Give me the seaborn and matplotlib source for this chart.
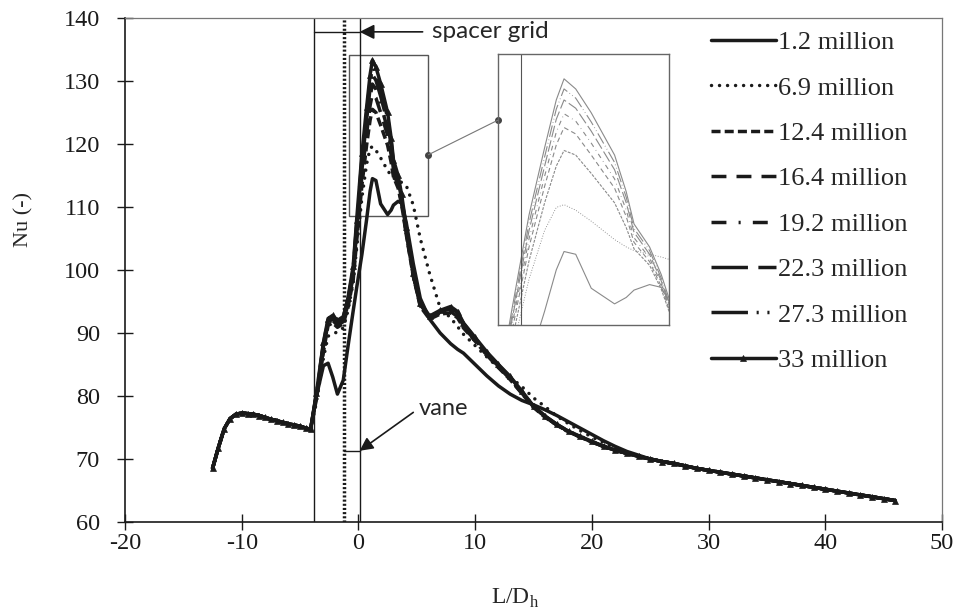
import matplotlib
matplotlib.use('Agg')
import matplotlib.pyplot as plt
import seaborn as sns
import pandas as pd
from matplotlib.patches import Rectangle, ConnectionPatch

# L/Dh positions (shared by all meshes)
x_inlet = [-12.5, -12, -11.5, -11, -10.5, -10, -9.5, -9, -8.5, -8, -7.5, -7, -6.5, -6, -5.5, -5, -4.5, -4.1]
x_mid = [-3.6, -3.0, -2.6, -2.2, -1.8, -1.3, -0.9, -0.45, -0.15, 0.3, 0.7, 1.0, 1.2,
         1.5, 1.9, 2.5, 2.8, 3.0, 3.4, 3.7, 4.1, 4.7, 5.3, 6.1, 7.0, 7.9, 8.5, 9.0,
         10, 11, 12, 13, 14, 15, 16, 17, 18, 19, 20, 21, 22, 23, 24]
x_far = [25, 26, 27, 28, 29, 30, 31, 32, 33, 34, 35, 36, 37, 38, 39, 40, 41, 42, 43, 44, 45, 46]

# Nu upstream of the grid and far downstream (all meshes agree here)
nu_inlet = [68.5, 71.8, 74.8, 76.4, 77.1, 77.3, 77.2, 77.1, 76.9, 76.6, 76.3, 76.1, 75.8, 75.6,
            75.4, 75.2, 74.9, 74.7]
nu_far = [70.0, 69.6, 69.3, 68.9, 68.5, 68.2, 67.9, 67.6, 67.3, 67.0, 66.7, 66.4,
          66.1, 65.8, 65.5, 65.2, 64.9, 64.6, 64.3, 64.0, 63.7, 63.4]

# Nu around the spacer grid, per mesh
nu_1_2 = [80.0, 84.8, 85.2, 83.0, 80.3, 82.5, 87.8, 93.5, 97.2, 102.5, 108.0, 112.5, 114.5,
          114.2, 110.5, 108.8, 109.5, 110.3, 110.9, 110.6, 107.5, 101.0, 95.5, 92.2, 90.0, 88.3, 87.4, 86.8,
          85.0, 83.2, 81.6, 80.3, 79.3, 78.6, 77.8, 76.9, 75.9, 74.9, 73.9, 72.9, 72.0, 71.2, 70.6]
nu_6_9 = [79.0, 86.0, 89.5, 89.8, 90.2, 90.8, 93.5, 98.0, 103.5, 111.5, 116.8, 119.3, 119.6,
          119.0, 117.8, 115.8, 115.0, 114.6, 114.2, 113.9, 113.4, 110.3, 105.0, 99.4, 94.0, 92.4, 91.0, 89.8,
          88.0, 86.2, 84.5, 83.0, 81.5, 79.7, 78.3, 76.8, 75.6, 74.5, 73.5, 72.6, 71.8, 71.1, 70.5]
nu_12_4 = [79.5, 87.0, 91.2, 91.6, 90.9, 91.5, 94.0, 98.4, 104.6, 113.5, 119.8, 123.8, 125.5,
           125.0, 123.0, 119.8, 117.1, 114.8, 113.0, 110.4, 105.6, 99.0, 94.2, 92.2, 93.0, 93.2, 92.4, 90.8,
           88.7, 86.5, 84.5, 82.6, 80.4, 78.2, 76.6, 75.4, 74.3, 73.5, 72.7, 72.0, 71.4, 70.9, 70.4]
nu_16_4 = [79.8, 87.5, 91.6, 92.0, 91.2, 91.8, 94.5, 99.0, 105.6, 115.0, 121.6, 126.1, 128.0,
           127.3, 125.0, 121.4, 118.3, 115.5, 113.4, 110.7, 105.8, 99.1, 94.3, 92.3, 93.2, 93.4, 92.6, 91.0,
           88.8, 86.6, 84.6, 82.7, 80.5, 78.3, 76.7, 75.4, 74.3, 73.5, 72.7, 72.0, 71.4, 70.9, 70.4]
nu_19_2 = [80.0, 87.8, 91.8, 92.2, 91.4, 92.0, 94.7, 99.4, 106.2, 115.9, 122.7, 127.5, 129.5,
           128.7, 126.3, 122.4, 119.0, 116.0, 113.8, 111.0, 106.0, 99.2, 94.4, 92.4, 93.3, 93.6, 92.8, 91.2,
           88.9, 86.7, 84.7, 82.8, 80.5, 78.3, 76.7, 75.4, 74.3, 73.5, 72.7, 72.0, 71.4, 70.9, 70.4]
nu_22_3 = [80.2, 88.0, 92.0, 92.4, 91.6, 92.2, 95.0, 99.8, 106.8, 116.8, 123.8, 128.9, 131.0,
           130.1, 127.6, 123.4, 119.8, 116.6, 114.2, 111.3, 106.2, 99.3, 94.5, 92.5, 93.4, 93.8, 93.0, 91.3,
           89.0, 86.8, 84.8, 82.9, 80.6, 78.3, 76.7, 75.4, 74.4, 73.5, 72.7, 72.0, 71.4, 70.9, 70.4]
nu_27_3 = [80.3, 88.3, 92.2, 92.6, 91.8, 92.4, 95.2, 100.2, 107.3, 117.6, 124.8, 130.0, 132.2,
           131.2, 128.6, 124.2, 120.4, 117.0, 114.6, 111.6, 106.4, 99.4, 94.6, 92.6, 93.5, 94.0, 93.2, 91.5,
           89.2, 86.9, 84.9, 83.0, 80.7, 78.4, 76.8, 75.5, 74.4, 73.6, 72.8, 72.0, 71.4, 70.9, 70.4]
nu_33 = [80.5, 88.5, 92.3, 92.8, 92.0, 92.6, 95.5, 100.6, 108.0, 118.5, 125.8, 131.0, 133.3,
         132.2, 129.6, 125.0, 121.0, 117.5, 115.0, 112.0, 106.8, 99.6, 94.8, 92.7, 93.6, 94.2, 93.4, 91.6,
         89.3, 87.0, 85.0, 83.1, 80.8, 78.4, 76.8, 75.5, 74.4, 73.6, 72.8, 72.0, 71.4, 70.9, 70.4]

labels = ['1.2 million', '6.9 million', '12.4 million', '16.4 million',
          '19.2 million', '22.3 million', '27.3 million', '33 million']
mids = [nu_1_2, nu_6_9, nu_12_4, nu_16_4, nu_19_2, nu_22_3, nu_27_3, nu_33]

x_all = x_inlet + x_mid + x_far
rows = []
for lab, mid in zip(labels, mids):
    assert len(mid) == len(x_mid), lab
    for xv, yv in zip(x_all, nu_inlet + mid + nu_far):
        rows.append({'mesh': lab, 'L/Dh': xv, 'Nu': yv})
df = pd.DataFrame(rows)

styles = {
    '1.2 million': dict(linestyle='-'),
    '6.9 million': dict(linestyle=(0, (0.01, 2.3)), dash_capstyle='round'),
    '12.4 million': dict(linestyle=(0, (2.6, 1.2))),
    '16.4 million': dict(linestyle=(0, (4.3, 2.9))),
    '19.2 million': dict(linestyle=(0, (4.3, 3.5, 0.6, 3.5))),
    '22.3 million': dict(linestyle=(0, (10.5, 3))),
    '27.3 million': dict(linestyle=(0, (10.5, 2.5, 0.6, 2.5, 0.6, 2.5))),
    '33 million': dict(linestyle='-', marker='^', markersize=5,
                       markeredgecolor='k', markerfacecolor='k', markeredgewidth=0.5),
}

sns.set_theme(style='ticks')
plt.rcParams['font.family'] = ['Liberation Serif', 'DejaVu Serif']
plt.rcParams['mathtext.fontset'] = 'custom'
plt.rcParams['mathtext.rm'] = 'Liberation Serif'
plt.rcParams['axes.unicode_minus'] = False

fig = plt.figure(figsize=(9.63, 6.16), dpi=100)
ax = fig.add_axes([0.1298, 0.1526, 0.8484, 0.8182])

for lab in labels:
    sub = df[df['mesh'] == lab]
    sns.lineplot(x='L/Dh', y='Nu', data=sub, ax=ax, color='k', lw=2.5,
                 sort=False, estimator=None, label=lab, **styles[lab])

ax.set_xlim(-20, 50)
ax.set_ylim(60, 140)
ax.set_xticks(range(-20, 51, 10))
ax.set_yticks(range(60, 141, 10))
ax.tick_params(direction='inout', length=12, width=1, labelsize=17.5, colors='k')
ax.tick_params(axis='x', pad=2)
ax.tick_params(axis='y', pad=12)
for s in ['left', 'bottom']:
    ax.spines[s].set_color('k')
    ax.spines[s].set_linewidth(1.2)
for s in ['top', 'right']:
    ax.spines[s].set_color('#777777')
    ax.spines[s].set_linewidth(0.9)
ax.set_xlabel(r'L/D$_\mathrm{h}$', fontsize=17)
ax.set_ylabel('Nu (-)', fontsize=16)
ax.xaxis.set_label_coords(0.477, -0.128)
ax.yaxis.set_label_coords(-0.112, 0.6)

# grid / vane markers
grid_x = [-3.8, 0.1]
vane_x = -1.2
ax.axvline(grid_x[0], color='k', lw=1)
ax.axvline(grid_x[1], color='k', lw=1)
ax.axvline(vane_x, color='k', lw=2.5, linestyle=(0, (0.6, 0.6)))
ax.plot(grid_x, [137.8, 137.8], color='k', lw=1)
ax.plot([vane_x, grid_x[1]], [71.3, 71.3], color='k', lw=1)
ax.annotate('', xy=(grid_x[1], 137.8), xytext=(5.5, 137.8),
            arrowprops=dict(arrowstyle='-|>', color='k', lw=1.2, mutation_scale=22,
                            shrinkA=0, shrinkB=0))
ax.text(6.3, 137.9, 'spacer grid', fontsize=17.5, family=['Lato', 'DejaVu Sans'], va='center')
ax.annotate('', xy=(grid_x[1], 71.3), xytext=(4.7, 77.4),
            arrowprops=dict(arrowstyle='-|>', color='k', lw=1.2, mutation_scale=20,
                            shrinkA=0, shrinkB=0))
ax.text(5.2, 78.0, 'vane', fontsize=17, family=['Lato', 'DejaVu Sans'], va='center')

# zoom box and inset
ax.add_patch(Rectangle((-0.8, 108.5), 6.8, 25.6, fill=False, edgecolor='#555555', lw=1))
axin = fig.add_axes([0.5171, 0.4724, 0.1776, 0.4399])
for lab in labels:
    sub = df[df['mesh'] == lab]
    st = {k: v for k, v in styles[lab].items()
          if k in ('linestyle', 'dash_capstyle')}
    sns.lineplot(x='L/Dh', y='Nu', data=sub, ax=axin, color='#8a8a8a', lw=0.8,
                 sort=False, estimator=None, **st)
axin.axvline(grid_x[1], color='#555555', lw=0.8)
axin.set_xlim(-0.5, 3.9)
axin.set_ylim(106.5, 136)
axin.set_xticks([])
axin.set_yticks([])
axin.set_xlabel('')
axin.set_ylabel('')
for s in axin.spines.values():
    s.set_color('#666666')
    s.set_linewidth(1)
con = ConnectionPatch(xyA=(6.0, 118.3), coordsA=ax.transData, xyB=(0, 0.756),
                      coordsB=axin.transAxes, color='#777777', lw=0.8)
fig.add_artist(con)
ax.plot([6.0], [118.3], marker='o', ms=4, color='#444444', clip_on=False)
axin.plot([0], [0.756], marker='o', ms=4, color='#444444', transform=axin.transAxes, clip_on=False)

handles, labs = ax.get_legend_handles_labels()
ax.legend(handles, labs, loc='upper left', bbox_to_anchor=(711 / 963, 0.95),
          bbox_transform=fig.transFigure, frameon=False, fontsize=19,
          handlelength=2.45, handletextpad=0.1, labelspacing=0.83,
          borderpad=0, borderaxespad=0)

fig.savefig('out.png', dpi=100)
